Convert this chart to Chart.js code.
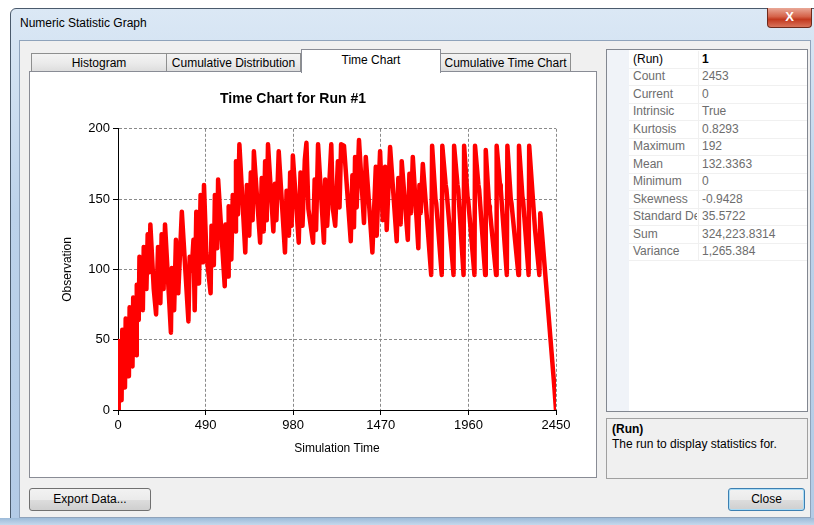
<!DOCTYPE html>
<html>
<head>
<meta charset="utf-8">
<script src="https://cdn.jsdelivr.net/npm/chart.js@4.4.0/dist/chart.umd.min.js"></script>
<style>
  body { margin: 0; width: 814px; height: 525px; overflow: hidden; background: #fff;
         font-family: "Liberation Sans", Arial, sans-serif; font-size: 12px; position: relative; }
  .abs { position: absolute; box-sizing: border-box; }
  #frame { left: 10px; top: 8px; width: 820px; height: 517px; border: 1px solid #4a5a6c; border-radius: 6px 0 0 0;
           background: linear-gradient(180deg, #dbe8f5 0%, #bcd2ea 40%, #b3cbe6 100%); }
  #titleText { left: 20px; top: 16px; color: #000; font-size: 12px; }
  #closeX { left: 767px; top: 8px; width: 45px; height: 20px; border: 1px solid #6e2a1c; border-top: none;
            border-radius: 0 0 4px 4px; background: linear-gradient(180deg, #e9a897 0%, #d5634a 45%, #c2391f 60%, #d9735a 100%);
            color: #fff; font-weight: bold; font-size: 13px; text-align: center; line-height: 18px; }
  #client { left: 19px; top: 40px; width: 792px; height: 478px; background: #f0f0f0; border: 1px solid #8fa3bb; }
  #bottomStrip { left: 0; top: 518px; width: 814px; height: 7px; background: linear-gradient(180deg, #9dbbd9, #c4d8ec); }
  .tab { top: 53px; height: 19px; border: 1px solid #8e8f8f; border-bottom: none;
         background: linear-gradient(180deg, #f3f3f3 0%, #ebebeb 50%, #dcdcdc 100%); text-align: center; line-height: 18px; }
  .tab.sel { top: 49px; height: 24px; background: #fff; border-color: #898c95; line-height: 20px; z-index: 3; }
  #panel { left: 29px; top: 71px; width: 568px; height: 407px; border: 1px solid #898c95; background: #fff; z-index: 2; }
  #chartBox { left: 30px; top: 72px; width: 566px; height: 405px; z-index: 4; }
  #grid { left: 606px; top: 49px; width: 202px; height: 363px; border: 1px solid #828790; background: #fff; }
  #gutter { left: 607px; top: 50px; width: 22px; height: 361px; background: #f0f3f8; }
  .row { left: 629px; width: 178px; height: 18px; border-bottom: 1px solid #f0f0f0; }
  .pname { left: 630px; width: 67px; overflow: hidden; white-space: nowrap; color: #6d6d6d; padding-left: 3px; line-height: 17px; }
  .pval { left: 698px; width: 109px; overflow: hidden; white-space: nowrap; color: #6d6d6d; padding-left: 3px; line-height: 17px;
          border-left: 1px solid #f0f0f0; }
  #desc { left: 606px; top: 418px; width: 202px; height: 61px; border: 1px solid #a0a0a0; background: #f0f0f0; }
  .btn { top: 488px; height: 23px; border: 1px solid #707070; border-radius: 3px; text-align: center; line-height: 21px;
         background: linear-gradient(180deg, #f2f2f2 0%, #ebebeb 50%, #dddddd 51%, #cfcfcf 100%); }
  #closeBtn { border-color: #3c7fb1; box-shadow: inset 0 0 0 1px #a9dcf6; }
</style>
</head>
<body>
<div id="frame" class="abs"></div>
<div id="titleText" class="abs">Numeric Statistic Graph</div>
<div id="closeX" class="abs">X</div>
<div id="client" class="abs"></div>
<div id="bottomStrip" class="abs"></div>

<div class="abs tab" style="left:31px;width:136px;">Histogram</div>
<div class="abs tab" style="left:166px;width:135px;">Cumulative Distribution</div>
<div class="abs tab sel" style="left:301px;width:140px;">Time Chart</div>
<div class="abs tab" style="left:440px;width:131px;">Cumulative Time Chart</div>
<div id="panel" class="abs"></div>
<div id="chartBox" class="abs"><canvas id="chart"></canvas></div>

<div id="grid" class="abs"></div>
<div id="gutter" class="abs"></div>
<div id="rows"></div>
<div id="desc" class="abs">
  <div style="position:absolute;left:5px;top:3px;font-weight:bold;">(Run)</div>
  <div style="position:absolute;left:5px;top:18px;">The run to display statistics for.</div>
</div>
<div class="abs btn" style="left:29px;width:122px;">Export Data...</div>
<div id="closeBtn" class="abs btn" style="left:728px;width:77px;">Close</div>

<script>
// statistics panel
const statNames = ['(Run)', 'Count', 'Current', 'Intrinsic', 'Kurtosis', 'Maximum', 'Mean', 'Minimum',
                   'Skewness', 'Standard Deviation', 'Sum', 'Variance'];
const statValues = ['1', '2453', '0', 'True', '0.8293', '192', '132.3363', '0',
                    '-0.9428', '35.5722', '324,223.8314', '1,265.384'];

// time chart series (simulation time, observation)
const times = [
  0, 4, 20, 24, 39, 43, 61, 65, 81, 85, 102, 105, 116, 120, 139, 144, 159, 166, 176, 181,
  200, 213, 224, 237, 244, 255, 263, 296, 301, 314, 324, 337, 357, 394, 401, 412, 422, 429, 438, 453,
  462, 475, 481, 494, 518, 523, 536, 542, 555, 560, 597, 601, 616, 619, 634, 642, 656, 660, 671, 679,
  712, 721, 734, 743, 753, 760, 795, 804, 815, 823, 832, 839, 869, 878, 886, 899, 934, 943, 956, 963,
  971, 978, 1011, 1021, 1032, 1045, 1054, 1065, 1091, 1100, 1108, 1119, 1152, 1159, 1170, 1193, 1202, 1215, 1230, 1239,
  1248, 1264, 1302, 1311, 1320, 1326, 1335, 1348, 1376, 1386, 1423, 1442, 1447, 1466, 1481, 1494, 1503, 1522, 1559, 1568,
  1581, 1587, 1621, 1630, 1639, 1649, 1680, 1686, 1693, 1705, 1752,
  1757, 1776, 1780, 1811, 1814, 1833, 1837, 1877, 1880, 1899, 1903, 1933, 1936, 1955, 1959, 1994,
  1997, 2016, 2020, 2054, 2057, 2076, 2080, 2115, 2118, 2137, 2141, 2175, 2178, 2197, 2201, 2240,
  2243, 2262, 2266, 2297, 2300, 2333, 2357, 2362, 2372, 2441, 2450
];
const observations = [
  0, 49, 7, 57, 16, 65, 24, 73, 31, 80, 39, 89, 64, 109, 71, 116, 86, 125, 98, 132,
  86, 68, 116, 76, 125, 86, 132, 55, 101, 71, 121, 83, 141, 63, 109, 99, 121, 71, 141, 90,
  153, 105, 160, 112, 83, 131, 103, 153, 115, 164, 88, 132, 95, 145, 107, 153, 127, 177, 139, 189,
  112, 160, 124, 169, 135, 184, 119, 165, 127, 177, 135, 189, 127, 161, 135, 184, 112, 156, 124, 169,
  131, 181, 119, 169, 131, 178, 190, 143, 119, 164, 128, 189, 119, 164, 131, 189, 143, 131, 177, 144,
  189, 188, 120, 167, 130, 180, 144, 192, 133, 180, 112, 173, 124, 184, 135, 173, 128, 187, 120, 165,
  132, 177, 121, 168, 140, 180, 115, 160, 140, 175, 96,
  188, 150, 147, 96, 188, 160, 157, 96, 188, 160, 157, 96, 188, 152, 149, 96,
  188, 160, 157, 96, 185, 145, 142, 96, 188, 160, 157, 96, 188, 150, 147, 96,
  188, 152, 149, 96, 188, 128, 96, 140, 125, 16, 0
];
const xTicks = [0, 490, 980, 1470, 1960, 2450];
const yTicks = [0, 50, 100, 150, 200];

// property rows
const rowsEl = document.getElementById('rows');
statNames.forEach((n, i) => {
  const top = 51 + i * 17.45;
  const bold = i === 0;
  rowsEl.insertAdjacentHTML('beforeend',
    `<div class="abs row" style="top:${top}px"></div>` +
    `<div class="abs pname" style="top:${top}px;${bold ? 'color:#000' : ''}">${n}</div>` +
    `<div class="abs pval" style="top:${top}px;${bold ? 'color:#000;font-weight:bold' : ''}">${statValues[i]}</div>`);
});

const points = times.map((t, i) => ({ x: t, y: observations[i] }));

new Chart(document.getElementById('chart'), {
  type: 'line',
  data: {
    datasets: [{
      data: points,
      borderColor: '#ff0000',
      borderWidth: 4.5,
      pointRadius: 0,
      tension: 0,
      borderJoinStyle: 'round',
      borderCapStyle: 'round'
    }]
  },
  options: {
    responsive: true,
    maintainAspectRatio: false,
    animation: false,
    layout: { padding: { left: 0, right: 40, top: 0, bottom: 9 } },
    plugins: {
      legend: { display: false },
      tooltip: { enabled: false },
      title: {
        display: true,
        text: 'Time Chart for Run #1',
        color: '#000',
        font: { family: 'Liberation Sans', size: 14, weight: 'bold' },
        padding: { top: 19, bottom: 21 }
      }
    },
    scales: {
      x: {
        type: 'linear',
        min: 0, max: 2450,
        afterBuildTicks: s => { s.ticks = xTicks.map(v => ({ value: v })); },
        afterFit: s => { s.height = 58; },
        ticks: { color: '#000', font: { family: 'Liberation Sans', size: 13 }, padding: 3, maxRotation: 0,
                 callback: v => String(v) },
        grid: { color: '#8a8a8a', tickColor: '#000', tickLength: 5, tickBorderDash: [] },
        border: { color: '#000', width: 1, dash: [3, 2] },
        title: { display: true, text: 'Simulation Time', color: '#000',
                 font: { family: 'Liberation Sans', size: 12 }, padding: { top: 0, bottom: 12 } }
      },
      y: {
        min: 0, max: 200,
        afterBuildTicks: s => { s.ticks = yTicks.map(v => ({ value: v })); },
        afterFit: s => { s.width = 88; },
        ticks: { color: '#000', font: { family: 'Liberation Sans', size: 13 }, padding: 3,
                 callback: v => String(v) },
        grid: { color: '#8a8a8a', tickColor: '#000', tickLength: 5, tickBorderDash: [] },
        border: { color: '#000', width: 1, dash: [3, 2] },
        title: { display: true, text: 'Observation', color: '#000',
                 font: { family: 'Liberation Sans', size: 12 }, padding: { top: 30, bottom: 0 } }
      }
    }
  }
});
</script>
</body>
</html>
